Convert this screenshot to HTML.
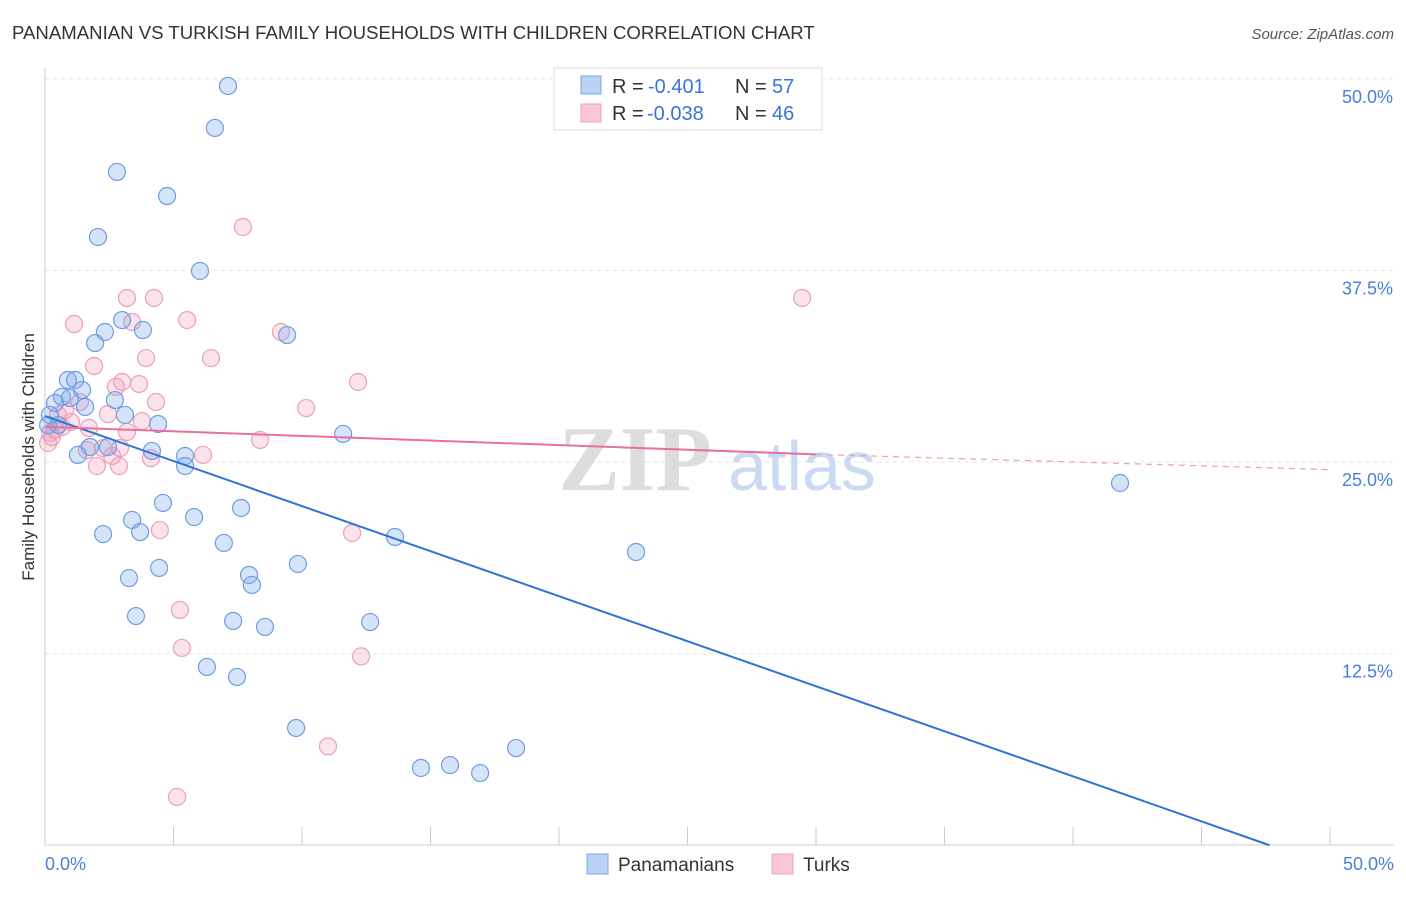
<!DOCTYPE html>
<html><head><meta charset="utf-8"><style>
body{margin:0;background:#fff;font-family:"Liberation Sans",sans-serif;}
</style></head><body>
<svg width="1406" height="892" viewBox="0 0 1406 892" xmlns="http://www.w3.org/2000/svg">
<text x="12" y="39" font-size="18.6" fill="#333">PANAMANIAN VS TURKISH FAMILY HOUSEHOLDS WITH CHILDREN CORRELATION CHART</text>
<text x="1394" y="39" font-size="15" fill="#555" font-style="italic" text-anchor="end">Source: ZipAtlas.com</text>
<g id="grid"></g>
<line x1="45" y1="68" x2="45" y2="845" stroke="#ccc"/>
<line x1="45" y1="845" x2="1394" y2="845" stroke="#ccc"/>
<g id="xticks"></g>
<g id="ylabels"></g>
<text x="45" y="870" font-size="18" fill="#4a7fd6">0.0%</text>
<text x="1394" y="870" font-size="18" fill="#4a7fd6" text-anchor="end">50.0%</text>
<text transform="translate(34,457) rotate(-90)" font-size="17" fill="#333" text-anchor="middle">Family Households with Children</text>
<g>
<text x="635" y="490" font-size="92" font-family="Liberation Serif" fill="#ddd" text-anchor="middle" font-weight="bold">ZIP</text>
<text x="802" y="490" font-size="70" fill="#c9daf2" text-anchor="middle">atlas</text>
</g>
<g id="pinkpts"></g>
<g id="bluepts"></g>
<g id="lines"></g>
<g>
<rect x="554" y="68" width="268" height="62" fill="#fff" stroke="#ddd"/>
<rect x="581" y="76" width="20" height="18" fill="#b9d2f5" stroke="#7aa5e6"/>
<rect x="581" y="104" width="20" height="18" fill="#f9c6d6" stroke="#eea0bb"/>
<g font-size="20">
<text x="612" y="93" fill="#333">R =</text><text x="648" y="93" fill="#3a75d4">-0.401</text>
<text x="735" y="93" fill="#333">N =</text><text x="772" y="93" fill="#3a75d4">57</text></g>
<g font-size="20">
<text x="612" y="120" fill="#333">R =</text><text x="647" y="120" fill="#3a75d4">-0.038</text>
<text x="735" y="120" fill="#333">N =</text><text x="772" y="120" fill="#3a75d4">46</text></g>
</g>
<g>
<rect x="587" y="854" width="21" height="20" fill="#b9d2f5" stroke="#7aa5e6"/>
<text x="618" y="871" font-size="19" fill="#333">Panamanians</text>
<rect x="772" y="854" width="21" height="20" fill="#f9c6d6" stroke="#eea0bb"/>
<text x="803" y="871" font-size="19" fill="#333">Turks</text>
</g>
</svg>
<script>
const blueX=[7.12,6.61,2.80,4.75,2.06,6.03,3.00,3.81,2.33,1.95,9.42,0.89,1.17,1.44,0.66,0.97,2.72,0.39,1.56,3.11,0.19,0.51,4.40,11.60,1.75,2.45,1.28,4.16,5.45,5.45,4.59,7.63,3.39,5.80,2.26,3.70,6.96,13.62,23.00,4.44,3.27,7.94,8.05,9.84,3.54,7.32,8.56,12.65,6.30,7.47,9.77,18.33,14.63,15.76,16.93,41.83,0.12];
const blueY=[49.53,46.79,43.92,42.35,39.68,37.46,34.26,33.61,33.48,32.76,33.28,30.35,30.35,29.70,29.24,29.17,29.04,28.85,28.59,28.07,28.07,27.41,27.48,26.83,25.98,25.98,25.46,25.72,25.39,24.74,22.33,22.00,21.22,21.41,20.30,20.43,19.72,20.11,19.13,18.09,17.43,17.63,16.98,18.35,14.95,14.63,14.24,14.56,11.63,10.98,7.65,6.34,5.04,5.23,4.71,23.63,27.41];
const pinkX=[7.70,3.19,4.24,29.46,1.13,5.53,3.39,9.18,6.46,3.93,1.91,12.18,3.00,3.66,10.16,4.32,1.36,2.45,0.51,3.77,1.01,1.71,3.19,0.39,0.12,0.27,8.37,2.26,1.63,2.92,2.61,6.15,4.12,2.88,2.02,4.47,11.95,5.25,5.33,12.30,11.01,5.14,0.78,0.66,2.76,0.2];
const pinkY=[40.33,35.70,35.70,35.70,34.00,34.26,34.13,33.48,31.78,31.78,31.26,30.22,30.22,30.09,28.52,28.91,28.91,28.13,28.07,27.67,27.61,27.22,26.96,27.09,26.24,26.63,26.44,25.91,25.78,25.91,25.39,25.46,25.26,24.74,24.74,20.56,20.37,15.35,12.87,12.32,6.45,3.15,28.39,27.28,29.9,26.9];
const yTicks=[12.5,25,37.5,50];
const yTickLabels=["12.5%","25.0%","37.5%","50.0%"];
const xTickVals=[0,5,10,15,20,25,30,35,40,45,50];
const blueTrend=[28.0,0,47.65];
const pinkTrend=[27.3,25.5,30,24.5,50];
const NS="http://www.w3.org/2000/svg";
const xs=v=>45+v*25.7, ys=v=>462-(v-25)*15.33;
function mk(t,a,p){const e=document.createElementNS(NS,t);for(const k in a)e.setAttribute(k,a[k]);p.appendChild(e);return e;}
const grid=document.getElementById('grid'),yl=document.getElementById('ylabels'),xt=document.getElementById('xticks');
yTicks.forEach((v,i)=>{
 const l=mk('line',{x1:45,x2:1394,y1:ys(v),y2:ys(v),stroke:'#e3e3e3','stroke-dasharray':'4,4'},grid);
 
 
 const t=mk('text',{x:1393,y:ys(v)+24,'font-size':18,fill:'#4a7fd6','text-anchor':'end'},yl);
 t.textContent=yTickLabels[i];
 
 
});
xTickVals.forEach(v=>{
 const l=mk('line',{x1:xs(v),x2:xs(v),y1:827,y2:845,stroke:'#ccc'},xt);
 
 
});
const pp=document.getElementById('pinkpts'),bp=document.getElementById('bluepts');
pinkX.forEach((x,i)=>{
 const c=mk('circle',{cx:xs(x),cy:ys(pinkY[i]),r:8.5,fill:'rgba(245,160,190,0.3)',stroke:'#eba0ba','stroke-width':1.2},pp);
 
 
});
blueX.forEach((x,i)=>{
 const c=mk('circle',{cx:xs(x),cy:ys(blueY[i]),r:8.5,fill:'rgba(120,165,235,0.3)',stroke:'#6e9ee0','stroke-width':1.2},bp);
 
 
});
const lg=document.getElementById('lines');
let b=mk('line',{x1:xs(0),y1:ys(blueTrend[0]),x2:xs(blueTrend[2]),y2:ys(blueTrend[1]),stroke:'#2f73d9','stroke-width':2},lg);


let p=mk('line',{x1:xs(0),y1:ys(pinkTrend[0]),x2:xs(pinkTrend[2]),y2:ys(pinkTrend[1]),stroke:'#e8709a','stroke-width':2},lg);


let pd=mk('line',{x1:xs(pinkTrend[2]),y1:ys(pinkTrend[1]),x2:xs(pinkTrend[4]),y2:ys(pinkTrend[3]),stroke:'#e8a0b8','stroke-width':1.2,'stroke-dasharray':'6,5'},lg);


</script>
</body></html>
